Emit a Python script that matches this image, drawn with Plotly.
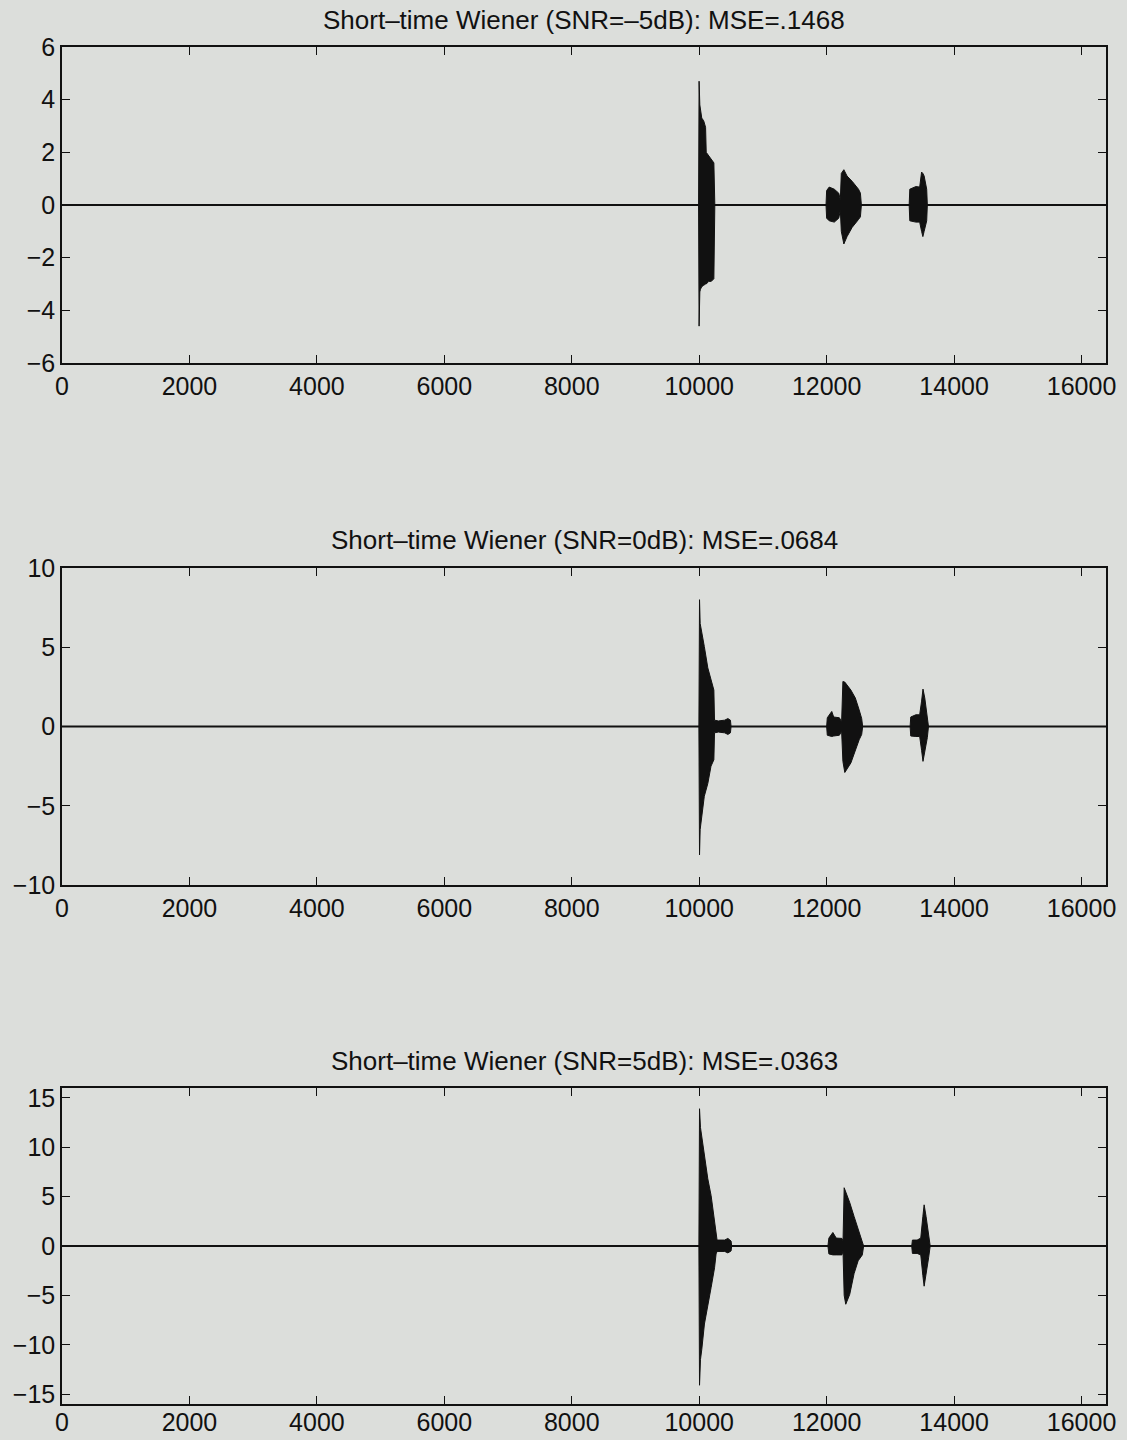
import plotly.graph_objects as go

# ---------------- data ----------------
TITLES = [
    "Short–time Wiener (SNR=–5dB): MSE=.1468",
    "Short–time Wiener (SNR=0dB): MSE=.0684",
    "Short–time Wiener (SNR=5dB): MSE=.0363",
]
X_RANGE = [0, 16384]
X_TICKS = [0, 2000, 4000, 6000, 8000, 10000, 12000, 14000, 16000]
X_TICKTEXT = ["0", "2000", "4000", "6000", "8000", "10000", "12000", "14000", "16000"]
Y_RANGES = [[-6, 6], [-10, 10], [-16, 16]]
Y_TICKS = [
    [-6, -4, -2, 0, 2, 4, 6],
    [-10, -5, 0, 5, 10],
    [-15, -10, -5, 0, 5, 10, 15],
]
BASELINE_X = [0, 16384]
BASELINE_Y = [0, 0]

# Panel 1 (SNR=-5dB) burst envelopes
p1_b1_x = [9990, 9998, 10010, 10020, 10040, 10070, 10100, 10110, 10150, 10190, 10230, 10245]
p1_b1_up = [0, 4.7, 3.8, 3.6, 3.3, 3.2, 2.95, 2.0, 1.85, 1.75, 1.6, 0]
p1_b1_lo = [0, -4.6, -3.3, -3.2, -3.1, -3.05, -3.0, -3.0, -2.9, -2.9, -2.8, 0]
p1_b2_x = [11990, 12000, 12040, 12120, 12190, 12215, 12230, 12270, 12320, 12400, 12500, 12530, 12545]
p1_b2_up = [0, 0.55, 0.68, 0.6, 0.45, 0.2, 1.2, 1.34, 1.1, 0.9, 0.6, 0.45, 0]
p1_b2_lo = [0, -0.5, -0.6, -0.65, -0.5, -0.2, -1.0, -1.48, -1.2, -0.85, -0.55, -0.45, 0]
p1_b3_x = [13295, 13305, 13400, 13460, 13490, 13510, 13530, 13570, 13580]
p1_b3_up = [0, 0.6, 0.7, 0.68, 1.25, 1.2, 1.1, 0.6, 0]
p1_b3_lo = [0, -0.6, -0.65, -0.65, -1.0, -1.2, -1.0, -0.6, 0]

# Panel 2 (SNR=0dB)
p2_b1_x = [9995, 10005, 10015, 10030, 10080, 10135, 10185, 10230, 10240, 10300, 10400, 10450, 10490, 10500]
p2_b1_up = [0, 8.0, 6.5, 6.1, 5.05, 3.7, 2.95, 2.3, 0.4, 0.35, 0.4, 0.5, 0.4, 0]
p2_b1_lo = [0, -8.1, -6.5, -5.9, -4.4, -3.6, -2.5, -2.1, -0.4, -0.35, -0.4, -0.5, -0.4, 0]
p2_b2_x = [12000, 12010, 12080, 12110, 12200, 12235, 12255, 12285, 12380, 12450, 12510, 12550, 12565]
p2_b2_up = [0, 0.55, 0.95, 0.6, 0.55, 0.3, 2.84, 2.8, 2.3, 1.8, 1.05, 0.5, 0]
p2_b2_lo = [0, -0.55, -0.63, -0.6, -0.55, -0.3, -2.2, -2.9, -2.3, -1.5, -0.84, -0.5, 0]
p2_b3_x = [13310, 13320, 13400, 13460, 13490, 13512, 13540, 13580, 13598]
p2_b3_up = [0, 0.6, 0.74, 0.74, 1.6, 2.36, 1.8, 0.7, 0]
p2_b3_lo = [0, -0.6, -0.63, -0.63, -1.5, -2.2, -1.7, -0.7, 0]

# Panel 3 (SNR=5dB)
p3_b1_x = [9995, 10005, 10020, 10040, 10082, 10135, 10187, 10241, 10265, 10280, 10400, 10450, 10500, 10510]
p3_b1_up = [0, 13.9, 12.0, 11.1, 9.1, 6.8, 5.1, 2.45, 0.8, 0.6, 0.6, 0.77, 0.5, 0]
p3_b1_lo = [0, -14.1, -11.5, -10.5, -7.9, -6.2, -4.2, -2.2, -0.8, -0.55, -0.55, -0.7, -0.5, 0]
p3_b2_x = [12020, 12035, 12098, 12150, 12240, 12257, 12275, 12300, 12362, 12430, 12494, 12560, 12580]
p3_b2_up = [0, 0.8, 1.37, 0.8, 0.77, 0.5, 5.9, 5.5, 4.4, 3.0, 1.8, 0.6, 0]
p3_b2_lo = [0, -0.8, -0.9, -0.9, -0.9, -0.5, -5.0, -5.9, -4.9, -2.8, -1.5, -0.9, 0]
p3_b3_x = [13335, 13346, 13420, 13477, 13510, 13530, 13560, 13600, 13625]
p3_b3_up = [0, 0.6, 0.6, 0.8, 3.0, 4.17, 3.0, 1.0, 0]
p3_b3_lo = [0, -0.75, -0.75, -0.9, -3.0, -4.07, -3.0, -1.2, 0]

PANELS = [
    [(p1_b1_x, p1_b1_up, p1_b1_lo), (p1_b2_x, p1_b2_up, p1_b2_lo), (p1_b3_x, p1_b3_up, p1_b3_lo)],
    [(p2_b1_x, p2_b1_up, p2_b1_lo), (p2_b2_x, p2_b2_up, p2_b2_lo), (p2_b3_x, p2_b3_up, p2_b3_lo)],
    [(p3_b1_x, p3_b1_up, p3_b1_lo), (p3_b2_x, p3_b2_up, p3_b2_lo), (p3_b3_x, p3_b3_up, p3_b3_lo)],
]

# ---------------- styling / layout ----------------
W, H = 1127, 1440
BG = "#dcdedb"
INK = "#111111"
FONT = "Liberation Sans, Arial, Helvetica, sans-serif"

# plot areas in pixels (left, right, top, bottom)
AREAS = [(62, 1106, 47, 363), (62, 1106, 568, 885), (62, 1106, 1088, 1404)]
TITLE_Y = [20, 540, 1061]
X_LABEL_SHIFT = [0, 0, -5]

fig = go.Figure()
annotations = []
for i, (bursts, area) in enumerate(zip(PANELS, AREAS)):
    xa = "x" if i == 0 else f"x{i+1}"
    ya = "y" if i == 0 else f"y{i+1}"
    fig.add_trace(go.Scatter(x=BASELINE_X, y=BASELINE_Y, mode="lines",
                             line=dict(color=INK, width=2), xaxis=xa, yaxis=ya,
                             showlegend=False, hoverinfo="skip"))
    for bx, bu, bl in bursts:
        fig.add_trace(go.Scatter(x=list(bx) + list(bx)[::-1], y=list(bu) + list(bl)[::-1],
                                 mode="lines", fill="toself", fillcolor=INK,
                                 line=dict(color=INK, width=1), xaxis=xa, yaxis=ya,
                                 showlegend=False, hoverinfo="skip"))
    l, r, t, b = area
    axis_common = dict(showline=True, linecolor=INK, linewidth=1.5, mirror="allticks",
                       ticks="inside", ticklen=8, tickwidth=1.2, tickcolor=INK,
                       showgrid=False, zeroline=False, automargin=False,
                       tickfont=dict(family=FONT, size=25, color=INK))
    fig.update_layout(**{
        ("xaxis" if i == 0 else f"xaxis{i+1}"): dict(
            domain=[l / W, r / W], range=X_RANGE, tickvals=X_TICKS, ticktext=X_TICKTEXT,
            anchor=ya, ticklabelstandoff=X_LABEL_SHIFT[i], **axis_common),
        ("yaxis" if i == 0 else f"yaxis{i+1}"): dict(
            domain=[1 - b / H, 1 - t / H], range=Y_RANGES[i], tickvals=Y_TICKS[i],
            anchor=xa, **axis_common),
    })
    annotations.append(dict(text=TITLES[i], x=(l + r) / 2 / W, y=1 - TITLE_Y[i] / H,
                            xref="paper", yref="paper", xanchor="center", yanchor="middle",
                            showarrow=False, font=dict(family=FONT, size=26, color=INK)))

fig.update_layout(width=W, height=H, margin=dict(l=0, r=0, t=0, b=0, autoexpand=False),
                  paper_bgcolor=BG, plot_bgcolor=BG, annotations=annotations,
                  showlegend=False)
fig.write_html("out.html", config={"displayModeBar": False},
               post_script="document.body.style.margin='0';document.body.style.overflow='hidden';")
